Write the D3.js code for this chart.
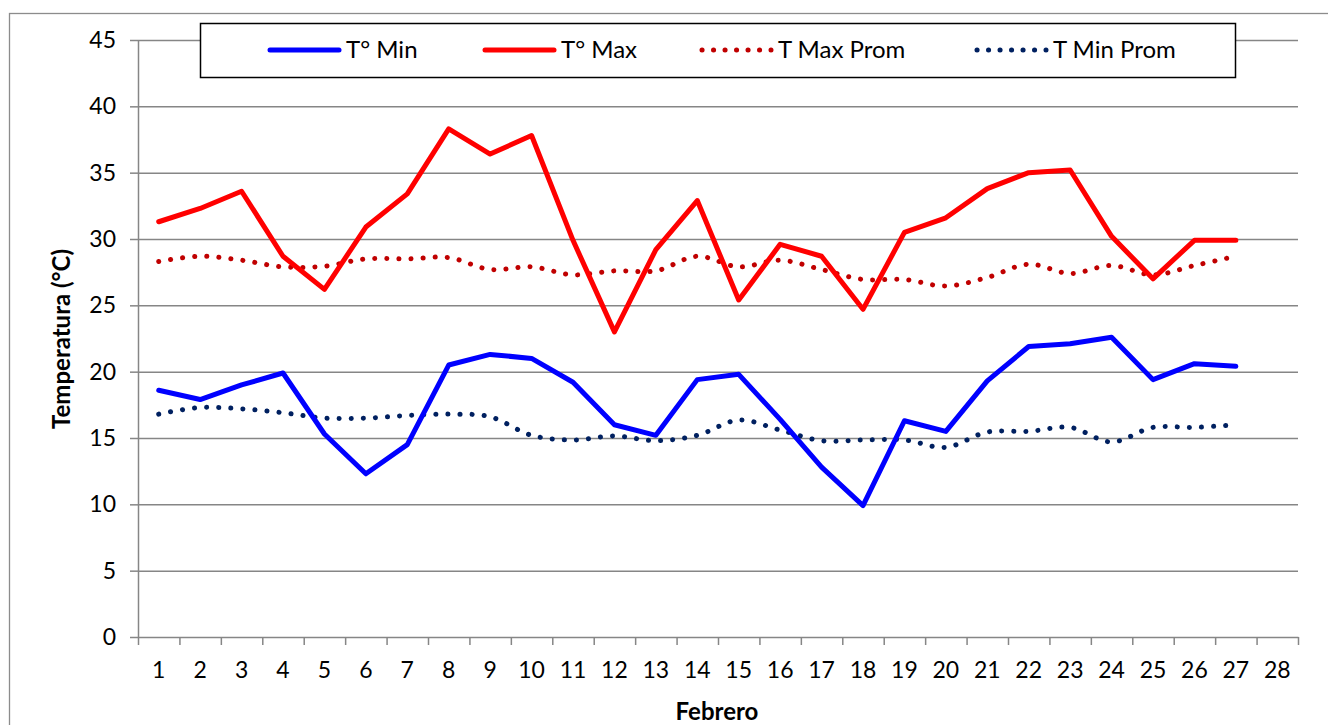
<!DOCTYPE html>
<html>
<head>
<meta charset="utf-8">
<script src="https://cdn.jsdelivr.net/npm/d3@7"></script>
<style>
  body { margin: 0; background: #fff; }
  text { font-family: Lato, "Open Sans", sans-serif; fill: #000; }
</style>
</head>
<body>
<script>
// days of February
var days = d3.range(1, 29);
var yTicks = [0, 5, 10, 15, 20, 25, 30, 35, 40, 45];

// daily values (27 days)
var tMin = [18.6, 17.9, 19.0, 19.9, 15.3, 12.3, 14.5, 20.5, 21.3, 21.0, 19.2, 16.0, 15.2, 19.4,
            19.8, 16.4, 12.8, 9.9, 16.3, 15.5, 19.3, 21.9, 22.1, 22.6, 19.4, 20.6, 20.4];
var tMax = [31.3, 32.3, 33.6, 28.7, 26.2, 30.9, 33.4, 38.3, 36.4, 37.8, 29.9, 23.0, 29.2, 32.9,
            25.4, 29.6, 28.7, 24.7, 30.5, 31.6, 33.8, 35.0, 35.2, 30.2, 27.0, 29.9, 29.9];
var tMaxProm = [28.3, 28.7, 28.4, 27.9, 27.95, 28.5, 28.5, 28.6, 27.7, 27.9, 27.3, 27.6, 27.6, 28.7,
                27.9, 28.4, 27.7, 26.95, 26.95, 26.45, 27.1, 28.1, 27.4, 28.0, 27.3, 28.0, 28.7];
var tMinProm = [16.8, 17.3, 17.2, 16.9, 16.5, 16.5, 16.7, 16.8, 16.6, 15.2, 14.85, 15.15, 14.8, 15.2,
                16.35, 15.6, 14.8, 14.85, 14.85, 14.3, 15.45, 15.5, 15.8, 14.7, 15.8, 15.8, 16.0];

var seriesNames = ["T° Min", "T° Max", "T Max Prom", "T Min Prom"];

var width = 1328, height = 725;
var plotL = 138, plotR = 1298, plotT = 40, plotB = 637;

var svg = d3.select("body").append("svg")
    .attr("width", width)
    .attr("height", height);

// outer chart frame (runs off the right/bottom edge)
svg.append("rect")
    .attr("x", 9.5).attr("y", 13.5)
    .attr("width", 1400).attr("height", 800)
    .attr("fill", "none")
    .attr("stroke", "#8c8c8c")
    .attr("stroke-width", 1.3);

var x = d3.scaleBand().domain(days).range([plotL, plotR]);
var xEdge = d3.scaleLinear().domain([0, 28]).range([plotL, plotR]);
var y = d3.scaleLinear().domain([0, 45]).range([plotB, plotT]);

function cx(i) { return x(days[i]) + x.bandwidth() / 2; }

// gridlines
svg.append("g")
    .attr("transform", "translate(" + plotL + ",0)")
    .call(d3.axisLeft(y).tickValues(yTicks.slice(1)).tickSize(-(plotR - plotL)).tickFormat(""))
    .call(function(g) {
      g.select(".domain").remove();
      g.selectAll("line").attr("stroke", "#868686").attr("stroke-width", 1.5);
    });

// y axis
svg.append("g")
    .attr("transform", "translate(" + plotL + ",0)")
    .call(d3.axisLeft(y).tickValues(yTicks).tickSize(8).tickSizeOuter(0).tickPadding(14))
    .call(function(g) {
      g.select(".domain").attr("stroke", "#868686").attr("stroke-width", 1.5);
      g.selectAll("line").attr("stroke", "#868686").attr("stroke-width", 1.5);
      g.selectAll("text").attr("font-size", 23).attr("font-family", "Lato");
    });

// x axis: tick marks at the category edges
svg.append("g")
    .attr("transform", "translate(0," + plotB + ")")
    .call(d3.axisBottom(xEdge).tickValues(d3.range(0, 29)).tickSize(8).tickSizeOuter(0).tickFormat(""))
    .call(function(g) {
      g.select(".domain").attr("stroke", "#868686").attr("stroke-width", 1.5);
      g.selectAll("line").attr("stroke", "#868686").attr("stroke-width", 1.5);
    });

// x axis labels centred on each day
svg.append("g")
    .attr("transform", "translate(0," + plotB + ")")
    .call(d3.axisBottom(x).tickSize(0).tickPadding(25))
    .call(function(g) {
      g.select(".domain").remove();
      g.selectAll("text").attr("font-size", 23).attr("font-family", "Lato");
    });

// axis titles
svg.append("text")
    .attr("x", 717).attr("y", 720)
    .attr("text-anchor", "middle")
    .attr("font-size", 24).attr("font-weight", "bold")
    .text("Febrero");

svg.append("text")
    .attr("transform", "translate(70,339) rotate(-90)")
    .attr("text-anchor", "middle")
    .attr("font-size", 24).attr("font-weight", "bold")
    .text("Temperatura (°C)");

var line = d3.line()
    .x(function(d, i) { return cx(i); })
    .y(function(d) { return y(d); });

var smooth = d3.line()
    .x(function(d, i) { return cx(i); })
    .y(function(d) { return y(d); })
    .curve(d3.curveCatmullRom.alpha(0.5));

var series = [
  { name: seriesNames[2], values: tMaxProm, color: "#c00000", dotted: true },
  { name: seriesNames[3], values: tMinProm, color: "#002060", dotted: true },
  { name: seriesNames[0], values: tMin, color: "#0000ff", dotted: false },
  { name: seriesNames[1], values: tMax, color: "#ff0000", dotted: false }
];

svg.selectAll(".series")
    .data(series)
  .enter().append("path")
    .attr("class", "series")
    .attr("d", function(d) { return d.dotted ? smooth(d.values) : line(d.values); })
    .attr("fill", "none")
    .attr("stroke", function(d) { return d.color; })
    .attr("stroke-width", 5)
    .attr("stroke-linejoin", "round")
    .attr("stroke-linecap", "round")
    .attr("stroke-dasharray", function(d) { return d.dotted ? "0.1,12" : null; });

// legend
var legend = svg.append("g");
legend.append("rect")
    .attr("x", 200.5).attr("y", 23.5)
    .attr("width", 1035).attr("height", 54)
    .attr("fill", "#fff")
    .attr("stroke", "#000")
    .attr("stroke-width", 1.5);

var legendItems = [
  { name: seriesNames[0], color: "#0000ff", dotted: false, x: 270 },
  { name: seriesNames[1], color: "#ff0000", dotted: false, x: 485 },
  { name: seriesNames[2], color: "#c00000", dotted: true, x: 702 },
  { name: seriesNames[3], color: "#002060", dotted: true, x: 977 }
];

var li = legend.selectAll(".li")
    .data(legendItems)
  .enter().append("g")
    .attr("class", "li")
    .attr("transform", function(d) { return "translate(" + d.x + ",50)"; });

li.append("line")
    .attr("x1", 0).attr("x2", 69)
    .attr("stroke", function(d) { return d.color; })
    .attr("stroke-width", 5)
    .attr("stroke-linecap", "round")
    .attr("stroke-dasharray", function(d) { return d.dotted ? "0.1,11.4" : null; });

li.append("text")
    .attr("x", 76).attr("y", 8)
    .attr("font-size", 24)
    .text(function(d) { return d.name; });
</script>
</body>
</html>
